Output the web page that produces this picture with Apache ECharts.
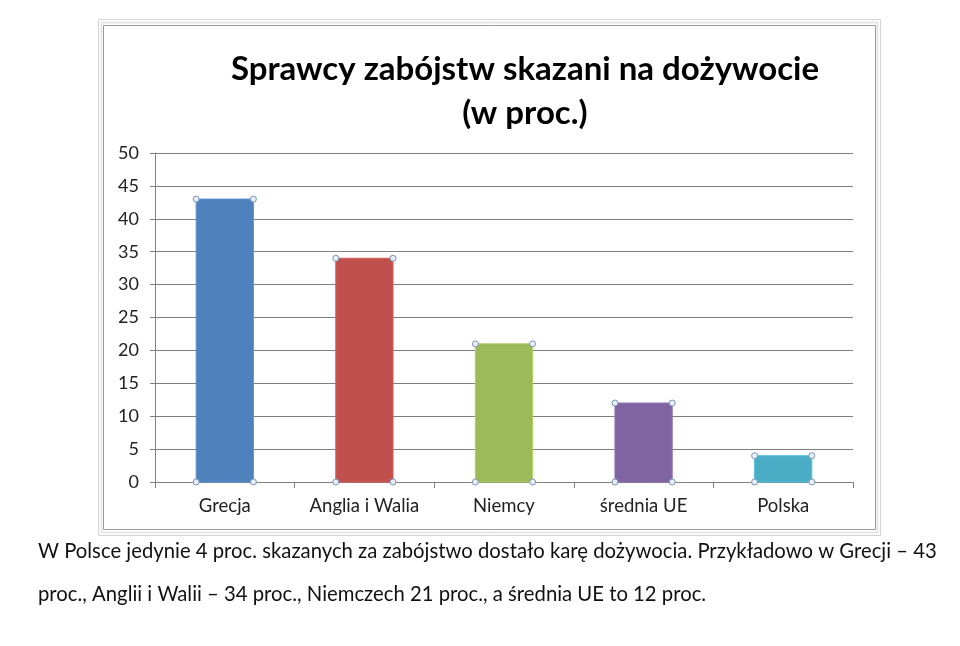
<!DOCTYPE html>
<html><head><meta charset="utf-8">
<script src="https://cdn.jsdelivr.net/npm/echarts@6/dist/echarts.min.js"></script>
<style>html,body{margin:0;padding:0;background:#fff}#c{width:960px;height:646px}</style>
</head><body><div id="c"></div>
<script>
const categories = ['Grecja', 'Anglia i Walia', 'Niemcy', 'średnia UE', 'Polska'];
const values = [43, 34, 21, 12, 4];
const yTicks = [0, 5, 10, 15, 20, 25, 30, 35, 40, 45, 50];
const titleLines = ['Sprawcy zabójstw skazani na dożywocie', '(w proc.)'];
const captionLines = [
  'W Polsce jedynie 4 proc. skazanych za zabójstwo dostało karę dożywocia. Przykładowo w Grecji – 43',
  'proc., Anglii i Walii – 34 proc., Niemczech 21 proc., a średnia UE to 12 proc.'
];
const barColors = ['#4F81BD', '#C0504D', '#9BBB59', '#8064A2', '#4BACC6'];
const FONT = 'Lato, "Open Sans", sans-serif';

const chart = echarts.init(document.getElementById('c'));
chart.setOption({
  backgroundColor: '#fff',
  animation: false,
  graphic: [
    { type: 'rect', shape: { x: 98.5, y: 19.5, width: 782, height: 516 }, style: { fill: 'none', stroke: '#d4d4d4', lineWidth: 1 }, z: 0 },
    { type: 'rect', shape: { x: 101.5, y: 22.5, width: 776, height: 510 }, style: { fill: 'none', stroke: '#e6e6e6', lineWidth: 2 }, z: 0 },
    { type: 'rect', shape: { x: 103.5, y: 25.5, width: 772, height: 504 }, style: { fill: 'none', stroke: '#9a9a9a', lineWidth: 1 }, z: 0 },
    { type: 'text', left: 38, top: 541, style: { text: captionLines[0], font: '20.3px ' + FONT, fill: '#111' } },
    { type: 'text', left: 38, top: 584, style: { text: captionLines[1], font: '20.3px ' + FONT, fill: '#111' } }
  ],
  title: {
    text: titleLines.join('\n'),
    left: 520, top: 42, textAlign: 'center',
    textStyle: { fontFamily: FONT, fontWeight: 'bold', fontSize: 33, lineHeight: 44, color: '#000' }
  },
  grid: { left: 155, right: 107, top: 153, bottom: 164 },
  xAxis: {
    type: 'category', data: categories,
    axisLine: { lineStyle: { color: '#7f7f7f', width: 1 } },
    axisTick: { show: true, length: 6, alignWithLabel: false, lineStyle: { color: '#7f7f7f' } },
    axisLabel: { interval: 0, fontFamily: FONT, fontSize: 18.5, color: '#222', margin: 15 }
  },
  yAxis: {
    type: 'value', min: 0, max: 50, interval: 5,
    axisLine: { show: true, lineStyle: { color: '#7f7f7f' } },
    axisTick: { show: true, length: 5, lineStyle: { color: '#7f7f7f' } },
    axisLabel: { fontFamily: FONT, fontSize: 18, color: '#222', margin: 16,
      formatter: v => (yTicks.indexOf(v) >= 0 ? String(v) : '') },
    splitLine: { lineStyle: { color: '#7f7f7f', width: 1 } }
  },
  series: [{
    type: 'custom',
    data: values.map((v, i) => [i, v]),
    renderItem: function (params, api) {
      const idx = api.value(0), val = api.value(1);
      const top = api.coord([idx, val]);
      const base = api.coord([idx, 0]);
      const bw = api.size([1, 0])[0] * 0.41;
      const x0 = top[0] - bw / 2, x1 = top[0] + bw / 2;
      const col = barColors[idx];
      const handle = (x, y) => ({ type: 'circle', shape: { cx: x, cy: y, r: 3 },
        style: { fill: '#e8eef7', stroke: '#7a95b5', lineWidth: 1 }, z2: 10 });
      return { type: 'group', children: [
        { type: 'rect', shape: { x: x0, y: top[1], width: bw, height: base[1] - top[1] },
          style: { fill: col, stroke: echarts.color.lift(col, -0.12), lineWidth: 1 } },
        handle(x0, top[1]), handle(x1, top[1]), handle(x0, base[1]), handle(x1, base[1])
      ]};
    }
  }]
});
</script></body></html>
